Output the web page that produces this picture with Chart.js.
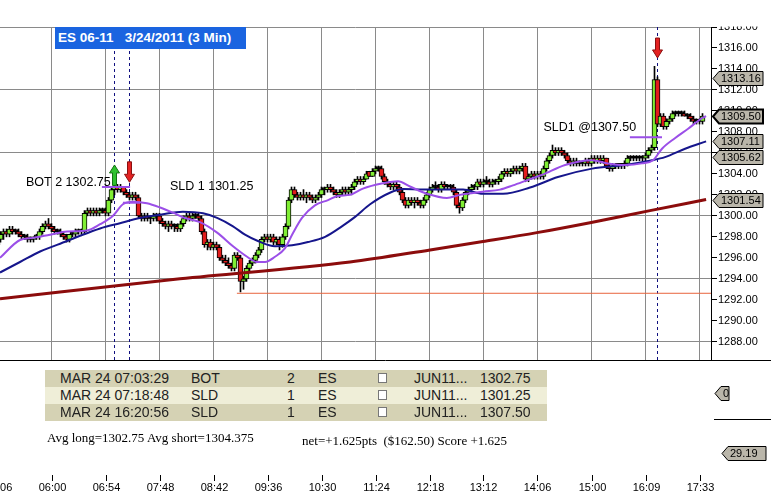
<!DOCTYPE html>
<html><head><meta charset="utf-8">
<script src="https://cdn.jsdelivr.net/npm/chart.js@4.4.1/dist/chart.umd.min.js"></script>
<style>
html,body{margin:0;padding:0;background:#fff;}
#wrap{position:relative;width:771px;height:499px;overflow:hidden;background:#fff;}
#c{position:absolute;left:0;top:0;}
#title{position:absolute;left:55px;top:27px;width:191px;height:22px;background:#1A64E0;color:#fff;font:bold 13.5px "Liberation Sans",Arial,sans-serif;line-height:22px;white-space:pre;padding-left:3px;box-sizing:border-box;}
#tbl{position:absolute;left:45px;top:370px;width:502px;}
.row{position:relative;height:17px;font:14px "Liberation Sans",Arial,sans-serif;color:#222;line-height:17px;}
.row span{position:absolute;top:0;white-space:nowrap;}
.row .cb{position:absolute;top:3px;width:7px;height:8px;border:1px solid #777;background:#fff;}
.txt{position:absolute;font:13px "Liberation Serif","Times New Roman",serif;color:#000;white-space:pre;}
</style></head>
<body>
<div id="wrap">
<canvas id="c" width="771" height="499"></canvas>
<div id="title">ES 06-11   3/24/2011 (3 Min)</div>
<div id="tbl"></div>
<div class="txt" id="avg" style="left:47px;top:430px;"></div>
<div class="txt" id="net" style="left:302px;top:433px;"></div>
</div>
<script>
// ---------- DATA ----------
const openP = [
1297.25,1297.75,1298.25,1298.5,1298.25,1298.75,1298.5,1298.5,1298.25,1298.0,
1298.0,1297.75,1297.75,1298.0,1298.0,1298.5,1299.0,1299.25,1299.0,1298.75,
1298.5,1298.5,1298.25,1298.0,1297.75,1298.25,1298.25,1298.5,1298.5,1298.5,
1300.25,1300.5,1300.25,1300.5,1300.25,1300.5,1300.5,1300.25,1301.5,1302.5,
1302.75,1302.5,1302.75,1302.25,1302.0,1301.75,1302.0,1301.75,1300.0,1299.75,
1300.0,1299.75,1299.75,1300.0,1300.0,1299.5,1299.25,1299.0,1299.25,1299.0,
1299.0,1298.75,1299.25,1299.75,1300.0,1299.75,1300.0,1300.0,1299.75,1298.5,
1297.25,1297.5,1297.0,1297.25,1297.0,1296.0,1295.75,1295.5,1295.25,1295.0,
1296.25,1296.0,1293.75,1294.0,1295.0,1295.5,1295.75,1296.25,1296.75,1297.75,
1298.0,1297.75,1298.0,1297.5,1297.75,1297.25,1298.0,1299.0,1301.5,1302.5,
1302.0,1301.75,1302.0,1301.75,1302.0,1301.75,1301.5,1301.75,1302.0,1302.5,
1302.5,1302.75,1302.5,1302.25,1302.0,1302.25,1302.5,1302.25,1302.5,1302.75,
1303.25,1303.5,1303.25,1303.5,1304.25,1303.75,1304.25,1304.5,1304.5,1303.75,
1303.25,1303.0,1302.75,1303.0,1302.75,1302.25,1301.5,1301.0,1301.5,1301.25,
1301.5,1301.25,1301.0,1301.5,1302.0,1302.5,1302.75,1302.75,1302.5,1303.0,
1302.75,1302.75,1302.75,1302.25,1301.0,1300.75,1301.5,1302.25,1302.5,1302.75,
1302.75,1303.25,1303.0,1303.25,1303.25,1303.0,1303.25,1303.25,1303.5,1304.0,
1304.25,1304.0,1304.25,1304.5,1304.25,1304.5,1304.75,1303.5,1303.75,1304.0,
1303.75,1304.0,1303.75,1304.5,1305.25,1305.75,1306.25,1306.0,1306.25,1306.0,
1305.75,1305.25,1305.0,1305.25,1305.0,1305.0,1305.0,1305.25,1305.0,1305.5,
1305.25,1305.5,1305.25,1305.5,1304.75,1304.5,1304.75,1304.75,1305.0,1304.75,
1305.0,1305.5,1305.5,1305.5,1305.5,1305.5,1305.5,1305.75,1306.25,1306.5,
1313.0,1308.75,1309.5,1308.5,1309.0,1309.25,1309.75,1309.75,1309.75,1309.75,
1309.5,1309.5,1309.25,1309.0,1309.0,1309.0];
const highP = [
1298.0,1298.5,1298.75,1298.75,1299.0,1299.0,1298.75,1298.75,1298.5,1298.25,
1298.25,1298.0,1298.0,1298.25,1298.75,1299.25,1299.5,1299.75,1299.25,1299.0,
1298.75,1298.75,1298.5,1298.25,1298.25,1298.5,1298.75,1298.75,1298.75,1300.5,
1300.75,1300.75,1300.75,1300.75,1300.75,1300.75,1300.75,1301.75,1302.75,1303.0,
1303.0,1303.0,1302.75,1302.5,1302.25,1302.25,1302.25,1302.0,1300.25,1300.25,
1300.25,1300.0,1300.25,1300.25,1300.25,1299.75,1299.5,1299.5,1299.5,1299.25,
1299.25,1299.5,1300.0,1300.25,1300.25,1300.25,1300.25,1300.25,1300.0,1298.75,
1297.75,1297.75,1297.5,1297.5,1297.25,1296.25,1296.25,1296.0,1295.5,1296.5,
1296.5,1296.25,1294.25,1295.25,1295.75,1296.0,1296.5,1297.0,1298.0,1298.25,
1298.25,1298.25,1298.25,1298.0,1298.0,1298.25,1299.25,1301.75,1302.75,1302.75,
1302.25,1302.25,1302.5,1302.25,1302.25,1302.0,1302.0,1302.25,1302.75,1302.75,
1303.0,1303.0,1302.75,1302.5,1302.5,1302.75,1302.75,1302.75,1303.0,1303.5,
1303.75,1303.75,1303.75,1304.25,1304.25,1304.5,1304.75,1304.75,1304.75,1304.0,
1303.5,1303.25,1303.25,1303.25,1303.0,1302.5,1301.75,1301.75,1301.75,1301.75,
1301.75,1301.5,1301.75,1302.25,1302.75,1303.0,1303.25,1303.0,1303.25,1303.25,
1303.0,1303.0,1303.0,1302.5,1301.25,1301.75,1302.5,1302.75,1303.0,1303.0,
1303.5,1303.5,1303.5,1303.75,1303.5,1303.5,1303.5,1303.75,1304.25,1304.5,
1304.5,1304.5,1304.75,1304.75,1304.75,1305.0,1305.0,1304.0,1304.25,1304.25,
1304.25,1304.25,1304.75,1305.5,1306.0,1306.75,1306.5,1306.5,1306.5,1306.25,
1306.0,1305.5,1305.5,1305.5,1305.25,1305.25,1305.5,1305.5,1305.75,1305.75,
1305.75,1305.75,1305.75,1305.5,1305.0,1305.0,1305.0,1305.0,1305.0,1305.25,
1305.75,1305.75,1305.75,1305.75,1305.75,1305.75,1306.0,1306.5,1306.75,1314.25,
1313.25,1309.75,1309.75,1309.25,1309.5,1310.0,1310.0,1310.0,1310.0,1310.0,
1309.75,1309.75,1309.5,1309.25,1309.25,1309.75];
const lowP = [
1296.75,1297.5,1297.75,1298.0,1298.0,1298.25,1298.25,1298.0,1297.75,1297.75,
1297.5,1297.5,1297.5,1297.75,1297.75,1298.25,1298.75,1298.75,1298.5,1298.25,
1298.25,1298.0,1297.75,1297.5,1297.5,1298.0,1298.0,1298.25,1298.25,1298.25,
1300.0,1300.0,1300.0,1300.0,1300.0,1300.25,1300.0,1300.0,1301.25,1302.0,
1302.25,1302.25,1302.0,1301.75,1301.5,1301.5,1301.5,1299.75,1299.5,1299.5,
1299.5,1299.25,1299.5,1299.5,1299.25,1299.0,1298.75,1298.5,1298.75,1298.5,
1298.5,1298.5,1299.0,1299.5,1299.5,1299.5,1299.75,1299.5,1298.25,1297.0,
1296.75,1296.75,1296.75,1296.75,1295.75,1295.5,1295.25,1295.0,1294.75,1294.75,
1295.75,1292.75,1293.0,1293.75,1294.75,1295.25,1295.5,1296.0,1296.5,1297.5,
1297.5,1297.5,1297.25,1297.25,1296.75,1297.0,1297.75,1298.75,1301.25,1301.75,
1301.5,1301.5,1301.5,1301.25,1301.5,1301.25,1301.25,1301.5,1301.75,1302.0,
1302.25,1302.25,1302.0,1301.75,1301.75,1302.0,1302.0,1302.0,1302.0,1302.5,
1303.0,1303.0,1303.0,1303.5,1303.75,1303.75,1304.0,1304.25,1303.5,1303.0,
1302.75,1302.5,1302.5,1302.5,1302.0,1301.25,1300.75,1300.75,1301.0,1300.75,
1301.0,1300.75,1300.75,1301.25,1301.75,1302.25,1302.5,1302.25,1302.25,1302.5,
1302.5,1302.5,1302.0,1300.75,1300.25,1300.5,1301.25,1302.0,1302.25,1302.5,
1302.5,1302.75,1302.75,1303.0,1302.75,1302.75,1303.0,1303.0,1303.25,1303.75,
1303.75,1303.75,1304.0,1304.0,1304.0,1304.25,1303.25,1303.25,1303.5,1303.5,
1303.5,1303.5,1303.5,1304.25,1305.0,1305.5,1305.75,1305.75,1305.75,1305.5,
1305.0,1304.75,1304.75,1304.75,1304.75,1304.75,1304.75,1304.75,1304.75,1305.0,
1305.0,1305.0,1305.0,1304.5,1304.25,1304.25,1304.5,1304.5,1304.5,1304.5,
1304.75,1305.25,1305.25,1305.25,1305.25,1305.25,1305.25,1305.5,1306.0,1306.25,
1308.5,1308.5,1308.25,1308.25,1308.75,1309.0,1309.5,1309.5,1309.5,1309.5,
1309.25,1309.0,1308.75,1308.75,1308.75,1308.75];
const closeP = [
1297.75,1298.25,1298.5,1298.25,1298.75,1298.5,1298.5,1298.25,1298.0,1298.0,
1297.75,1297.75,1298.0,1298.0,1298.5,1299.0,1299.25,1299.0,1298.75,1298.5,
1298.5,1298.25,1298.0,1297.75,1298.25,1298.25,1298.5,1298.5,1298.5,1300.25,
1300.5,1300.25,1300.5,1300.25,1300.5,1300.5,1300.25,1301.5,1302.5,1302.75,
1302.5,1302.75,1302.25,1302.0,1301.75,1302.0,1301.75,1300.0,1299.75,1300.0,
1299.75,1299.75,1300.0,1300.0,1299.5,1299.25,1299.0,1299.25,1299.0,1299.0,
1298.75,1299.25,1299.75,1300.0,1299.75,1300.0,1300.0,1299.75,1298.5,1297.25,
1297.5,1297.0,1297.25,1297.0,1296.0,1295.75,1295.5,1295.25,1295.0,1296.25,
1296.0,1293.75,1294.0,1295.0,1295.5,1295.75,1296.25,1296.75,1297.75,1298.0,
1297.75,1298.0,1297.5,1297.75,1297.25,1298.0,1299.0,1301.5,1302.5,1302.0,
1301.75,1302.0,1301.75,1302.0,1301.75,1301.5,1301.75,1302.0,1302.5,1302.5,
1302.75,1302.5,1302.25,1302.0,1302.25,1302.5,1302.25,1302.5,1302.75,1303.25,
1303.5,1303.25,1303.5,1304.0,1303.75,1304.25,1304.5,1304.5,1303.75,1303.25,
1303.0,1302.75,1303.0,1302.75,1302.25,1301.5,1301.0,1301.5,1301.25,1301.5,
1301.25,1301.0,1301.5,1302.0,1302.5,1302.75,1302.75,1302.5,1303.0,1302.75,
1302.75,1302.75,1302.25,1301.0,1300.75,1301.5,1302.25,1302.5,1302.75,1302.75,
1303.25,1303.0,1303.25,1303.25,1303.0,1303.25,1303.25,1303.5,1304.0,1304.25,
1304.0,1304.25,1304.5,1304.25,1304.5,1304.75,1303.5,1303.75,1304.0,1303.75,
1304.0,1303.75,1304.5,1305.25,1305.75,1306.25,1306.0,1306.25,1306.0,1305.75,
1305.25,1305.0,1305.25,1305.0,1305.0,1305.0,1305.25,1305.0,1305.5,1305.25,
1305.5,1305.25,1305.5,1304.75,1304.5,1304.75,1304.75,1305.0,1304.75,1305.0,
1305.5,1305.5,1305.5,1305.5,1305.5,1305.5,1305.75,1306.25,1306.5,1313.0,
1308.75,1309.5,1308.5,1309.0,1309.25,1309.75,1309.75,1309.75,1309.75,1309.5,
1309.5,1309.25,1309.0,1309.0,1309.0,1309.5];

// time labels every 18 bars (bar 0, 18, 36, ...)
const timeLabels = ["05:06","06:00","06:54","07:48","08:42","09:36","10:30","11:24","12:18","13:12","14:06","15:00","16:09","17:33"];
const yTickValues = [1288,1290,1292,1294,1296,1298,1300,1302,1304,1306,1308,1310,1312,1314,1316,1318];

// moving averages (bar position, value)
const fastMaBar = [0.83,7.5,11.8,17.5,23.2,29.8,34.2,38.5,41.8,45.2,49.8,54.2,58.5,62.5,67.5,73.2,78.5,83.2,86.5,89.2,92.5,95.8,98.2,101.5,105.8,110.2,113.5,117.5,121.8,128.5,133.5,137.5,143.2,149.8,154.2,161.8,167.5,171.8,177.5,181.5,189.2,198.2,203.5,209.2,214.8,218.5,221.5,225.8,230.2,234.8,236.2];
const fastMaVal = [1296.0,1297.7,1297.9,1298.2,1298.5,1298.6,1299.2,1300.0,1301.1,1301.35,1301.2,1300.8,1300.3,1299.8,1299.4,1298.4,1297.1,1296.1,1295.6,1295.6,1296.1,1296.9,1298.2,1299.8,1301.0,1301.5,1301.9,1302.0,1302.6,1303.1,1303.3,1302.8,1302.1,1301.7,1302.0,1302.3,1302.5,1302.9,1303.5,1303.9,1304.85,1305.3,1305.0,1304.85,1305.0,1305.3,1306.4,1307.4,1308.3,1309.3,1309.5];
const midMaBar = [0.83,7.5,14.2,23.2,27.5,34.2,40.8,47.5,54.2,61.8,68.5,73.2,78.5,82.5,86.8,92.5,98.2,103.5,109.2,114.8,119.2,124.2,130.8,135.2,141.8,155.2,161.8,168.5,177.5,186.8,198.2,209.2,218.2,222.5,229.2,236.2];
const midMaVal = [1294.6,1295.6,1296.6,1297.6,1298.1,1298.8,1299.3,1299.8,1300.1,1300.4,1300.25,1299.8,1299.0,1298.2,1297.6,1297.1,1297.2,1297.5,1298.0,1299.0,1299.9,1301.1,1302.2,1302.55,1302.5,1302.5,1302.1,1302.1,1302.7,1303.7,1304.5,1304.85,1305.3,1305.6,1306.4,1307.1];
const slowMaBar = [0.83,60.8,117.5,144.2,161.8,179.8,197.5,217.5,236.2];
const slowMaVal = [1292.1,1294.0,1295.6,1296.75,1297.55,1298.4,1299.35,1300.5,1301.55];

// trades
const tradeTime = ["MAR 24 07:03:29","MAR 24 07:18:48","MAR 24 16:20:56"];
const tradeSide = ["BOT","SLD","SLD"];
const tradeQty = ["2","1","1"];
const tradeSym = ["ES","ES","ES"];
const tradeContract = ["JUN11...","JUN11...","JUN11..."];
const tradePrice = [1302.75, 1301.25, 1307.50];
const tradeBar = [39, 44, 220];
const tradeLineFrom = [34.8, 41.8, 210.8];
const tradeLineTo = [44.2, 47.5, 221.5];
const arrowTail = [1302.9, 1305.15, 1316.95];
const arrowTip = [1304.85, 1303.2, 1315.05];
const noteText = ["BOT 2 1302.75","SLD 1 1301.25","SLD1 @1307.50"];
const noteBar = [9.5, 57.5, 182];
const notePrice = [1303.2, 1302.75, 1308.45];
const dayLow = 1292.62, dayLowBar = 79.8;
const tagValues = [1313.16, 1309.50, 1307.11, 1305.62, 1301.54];
const lowerTags = ["0", "29.19"];
const summaryAvg = "Avg long=1302.75 Avg short=1304.375";
const summaryNet = "net=+1.625pts  ($162.50) Score +1.625";

// ---------- HTML parts ----------
const tbl = document.getElementById('tbl');
const rowBg = ['#D5D2B4','#EFEED8','#D5D2B4'];
tradeTime.forEach((t,i)=>{
  const r = document.createElement('div'); r.className='row'; r.style.background=rowBg[i];
  r.innerHTML = `<span style="left:15px">${t}</span><span style="left:146px">${tradeSide[i]}</span>`+
    `<span style="left:242px">${tradeQty[i]}</span><span style="left:273px">${tradeSym[i]}</span>`+
    `<div class="cb" style="left:333px"></div><span style="left:369px">${tradeContract[i]}</span>`+
    `<span style="left:435px">${tradePrice[i].toFixed(2)}</span>`;
  tbl.appendChild(r);
});
document.getElementById('avg').textContent = summaryAvg;
document.getElementById('net').textContent = summaryNet;

// ---------- CHART ----------
const GREEN = '#80EE34', RED = '#E21C1C', PURPLE = '#9B4FE8', NAVY = '#16168C', DRED = '#8C0C0C';
const FONT = "'Liberation Sans', Arial, sans-serif";
const pts = (bx, vy) => bx.map((b,i)=>({x:b, y:vy[i]}));

const datasets = [];
tradeBar.forEach((b)=>{
  datasets.push({type:'line', data:[{x:b,y:1318},{x:b,y:1286.26}], borderColor:'#101080', borderWidth:1, borderDash:[3,3], pointRadius:0, order:20});
});
datasets.push({type:'line', data:[{x:dayLowBar,y:dayLow},{x:237.9,y:dayLow}], borderColor:'#E8643C', borderWidth:1, pointRadius:0, order:19});
datasets.push({type:'bar', data: closeP.map((c,i)=>({x:i, y:[lowP[i], highP[i]]})), backgroundColor:'#000', barThickness:1, grouped:false, order:10});
datasets.push({type:'bar', data: closeP.map((c,i)=>({x:i, y:[openP[i], c]})),
  backgroundColor: closeP.map((c,i)=> c>openP[i] ? GREEN : (c<openP[i] ? RED : '#000')),
  borderColor:'#000', borderWidth:1, borderSkipped:false, barThickness:5, minBarLength:2, grouped:false, order:9});
datasets.push({type:'line', data: pts(slowMaBar, slowMaVal), borderColor:DRED, borderWidth:3, pointRadius:0, cubicInterpolationMode:'monotone', order:5});
datasets.push({type:'line', data: pts(midMaBar, midMaVal), borderColor:NAVY, borderWidth:2, pointRadius:0, cubicInterpolationMode:'monotone', order:4});
datasets.push({type:'line', data: pts(fastMaBar, fastMaVal), borderColor:PURPLE, borderWidth:2, pointRadius:0, cubicInterpolationMode:'monotone', order:3});
tradePrice.forEach((p,i)=>{
  datasets.push({type:'line', data:[{x:tradeLineFrom[i],y:p},{x:tradeLineTo[i],y:p}], borderColor:PURPLE, borderWidth:2, pointRadius:0, order:2});
});

function tag(ctx, x0, x1, yc, text, bold){
  const h = 7;
  ctx.beginPath();
  ctx.moveTo(x0, yc); ctx.lineTo(x0+6, yc-h); ctx.lineTo(x1, yc-h); ctx.lineTo(x1, yc+h); ctx.lineTo(x0+6, yc+h); ctx.closePath();
  ctx.fillStyle = '#BAB6AA'; ctx.fill();
  ctx.lineWidth = bold ? 2 : 1; ctx.strokeStyle = '#000'; ctx.stroke();
  ctx.fillStyle = '#000'; ctx.font = '11px ' + FONT; ctx.textAlign='left'; ctx.textBaseline='middle';
  ctx.fillText(text, x0+8, yc+0.5);
}

const overlay = {
  id:'overlay',
  afterDraw(chart){
    const {ctx, scales:{x, y}} = chart;
    ctx.save();
    // arrows
    tradeBar.forEach((b,i)=>{
      const cx = x.getPixelForValue(b), yt = y.getPixelForValue(arrowTip[i]), ys = y.getPixelForValue(arrowTail[i]);
      const dir = yt < ys ? -1 : 1; const head = 8;
      const col = i===0 ? '#2EC02E' : '#E42222', edge = i===0 ? '#127012' : '#8A1010';
      ctx.beginPath();
      ctx.moveTo(cx-2, ys); ctx.lineTo(cx-2, yt - dir*head); ctx.lineTo(cx-5, yt - dir*head);
      ctx.lineTo(cx, yt); ctx.lineTo(cx+5, yt - dir*head); ctx.lineTo(cx+2, yt - dir*head); ctx.lineTo(cx+2, ys); ctx.closePath();
      ctx.fillStyle = col; ctx.fill(); ctx.lineWidth = 1; ctx.strokeStyle = edge; ctx.stroke();
    });
    // notes
    ctx.fillStyle = '#000'; ctx.font = '12.5px ' + FONT; ctx.textAlign='left'; ctx.textBaseline='middle';
    noteText.forEach((t,i)=> ctx.fillText(t, x.getPixelForValue(noteBar[i]), y.getPixelForValue(notePrice[i])));
    // white header band
    ctx.fillStyle = '#fff'; ctx.fillRect(0, 0, 771, 26.5);
    // pane separator
    ctx.strokeStyle = '#000'; ctx.lineWidth = 1;
    ctx.beginPath(); ctx.moveTo(0, 360.5); ctx.lineTo(771, 360.5); ctx.stroke();
    ctx.beginPath(); ctx.moveTo(714, 419.5); ctx.lineTo(771, 419.5); ctx.stroke();
    // time axis
    ctx.font = '11px ' + FONT; ctx.textAlign = 'center'; ctx.textBaseline = 'middle'; ctx.fillStyle = '#000';
    timeLabels.forEach((t,k)=>{
      const px = Math.round(x.getPixelForValue(18*k)) + 0.5;
      ctx.beginPath(); ctx.moveTo(px, 475); ctx.lineTo(px, 481); ctx.stroke();
      ctx.fillText(t, px, 488);
    });
    // price tags
    tagValues.forEach((v,i)=> tag(ctx, 713, 763, Math.round(y.getPixelForValue(v))+0.5, v.toFixed(2), i===1));
    tag(ctx, 715, 729, 393.5, lowerTags[0], false);
    tag(ctx, 722, 766, 453.5, lowerTags[1], false);
    ctx.restore();
  }
};

new Chart(document.getElementById('c'), {
  type:'bar',
  data:{datasets},
  options:{
    responsive:false, animation:false, devicePixelRatio:1,
    layout:{padding:{top:27, bottom:139, left:0, right:0}},
    plugins:{legend:{display:false}, tooltip:{enabled:false}},
    scales:{
      x:{type:'linear', min:2.5/3, max:713.5/3, offset:false,
        grid:{color:'#8A8A8A', drawTicks:false, offset:false},
        border:{display:false}, ticks:{display:false},
        afterBuildTicks:s=>{ s.ticks = timeLabels.map((t,k)=>({value:18*k})).filter(o=>o.value>1); },
        afterFit:s=>{ s.height = 0; }},
      y:{type:'linear', position:'right', min:1286.26, max:1318,
        grid:{color:c=> (c.tick && (c.tick.value-1288)%6===0) ? '#8A8A8A' : 'rgba(0,0,0,0)', tickColor:'#000', tickLength:6},
        border:{display:true, color:'#000'},
        ticks:{color:'#000', padding:1, font:{family:FONT, size:11}, callback:v=>Number(v).toFixed(2)},
        afterBuildTicks:s=>{ s.ticks = yTickValues.map(v=>({value:v})); },
        afterFit:s=>{ s.width = 60; }}
    }
  },
  plugins:[overlay]
});
</script>
</body></html>
